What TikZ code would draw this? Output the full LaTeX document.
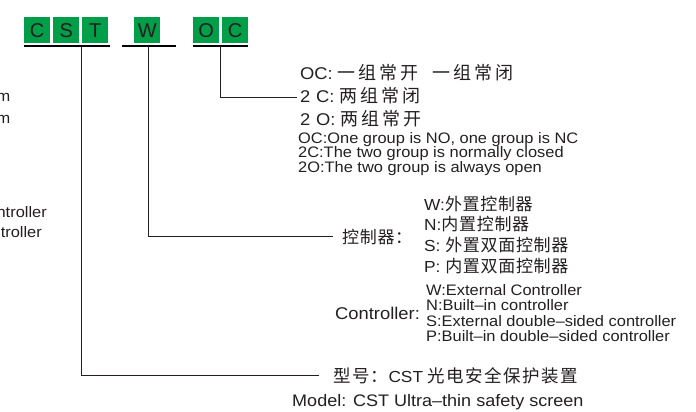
\documentclass[tikz,border=0pt]{standalone}
\usepackage{fontspec}
\setmainfont{Liberation Sans}[FakeStretch=1.08]
\newfontfamily\boxfont{Liberation Sans}
\newfontfamily\cjkfont{Noto Sans CJK SC}[LetterSpace=4]
\newfontfamily\cjkmid{Noto Sans CJK SC}[LetterSpace=8]
\newfontfamily\cjkwide{Noto Sans CJK SC}[LetterSpace=16]
\newcommand\zhtext[1]{{\cjkfont\fontsize{17}{20}\selectfont #1}}
\newcommand\zhmid[1]{{\cjkmid\fontsize{17.5}{20}\selectfont #1}}
\newcommand\zhwide[1]{{\cjkwide\fontsize{18}{20}\selectfont #1}}
\definecolor{ink}{RGB}{35,31,32}
\definecolor{boxgreen}{RGB}{0,158,73}
\begin{document}
\begin{tikzpicture}[x=1pt,y=-1pt,
  every node/.style={inner sep=0pt,text=ink},
  letterbox/.style={fill=boxgreen,minimum width=26pt,minimum height=26pt,anchor=north west,
    font=\boxfont\fontsize{20}{20}\selectfont},
  entext/.style={anchor=base west,font=\fontsize{15.2}{17}\selectfont},
  enbig/.style={anchor=base west,font=\fontsize{17}{19}\selectfont},
  enmodel/.style={anchor=base west,font=\fontsize{16.7}{19}\selectfont},
  cntext/.style={anchor=base west,font=\fontsize{16}{20}\selectfont},
  cnbig/.style={anchor=base west,font=\fontsize{17}{20}\selectfont},
  conn/.style={draw=ink,line width=1pt},
  uline/.style={draw=black,line width=1.4pt}]
\useasboundingbox (0,0) rectangle (696,412);
\clip (0,0) rectangle (696,412);
% letter boxes
\node[letterbox] (bc) at (24,17) {C};
\node[letterbox] (bs) at (53,17) {S};
\node[letterbox] (bt) at (82,17) {T};
\node[letterbox] (bw) at (134,17) {W};
\node[letterbox] (bo) at (193,17) {O};
\node[letterbox] (bc2) at (222,17) {C};
% underlines
\coordinate (u1a) at (24,46); \coordinate (u1b) at (110,46); \coordinate (u1m) at (81,46);
\coordinate (u2a) at (122,46); \coordinate (u2b) at (176,46); \coordinate (u2m) at (148,46);
\coordinate (u3a) at (193,46); \coordinate (u3b) at (248,46); \coordinate (u3m) at (220,46);
\draw[uline] (u1a) -- (u1b);
\draw[uline] (u2a) -- (u2b);
\draw[uline] (u3a) -- (u3b);
% OC group
\node[cnbig] (ocA) at (300,80) {OC: \zhwide{一组常开\hspace{14pt}一组常闭}};
\node[cnbig] (ocB) at (300,102.5) {2\,\,C: \zhwide{两组常闭}};
\node[cnbig] (ocC) at (300,125) {2\,\,O: \zhwide{两组常开}};
\node[entext] (ocD) at (298,143) {OC:One group is NO, one group is NC};
\node[entext] (ocE) at (298,157.5) {2C:The two group is normally closed};
\node[entext] (ocF) at (298,172) {2O:The two group is always open};
% controller group
\node[cntext] (ctA) at (424,210.5) {W:\zhtext{外置控制器}};
\node[cntext] (ctB) at (424,230) {N:\zhtext{内置控制器}};
\node[cntext] (ctC) at (424,251) {S: \zhtext{外置双面控制器}};
\node[cntext] (ctD) at (424,272) {P: \zhtext{内置双面控制器}};
\node[cntext] (ctzh) at (342,243) {\zhtext{控制器：}};
\node[entext] (ctE) at (426,295) {W:External Controller};
\node[entext] (ctF) at (426,310.5) {N:Built–in controller};
\node[entext] (ctG) at (426,326) {S:External double–sided controller};
\node[entext] (ctH) at (426,341.5) {P:Built–in double–sided controller};
\node[enbig] (cten) at (335,319.5) {Controller:};
% model
\node[cntext] (mdzh) at (333,382) {\zhmid{型号：}CST \zhmid{光电安全保护装置}};
\node[enmodel] (mden) at (292,406) {Model: CST Ultra–thin safety screen};
% cut-off fragments at left edge (as in the reference)
\node[entext,anchor=base east] (fa) at (10.5,101) {m};
\node[entext,anchor=base east] (fb) at (10.5,123) {m};
\node[entext,anchor=base east] (fc) at (47,217) {ntroller};
\node[entext,anchor=base east] (fd) at (42,237) {troller};
% connectors
\draw[conn] (u3m) |- ([xshift=-3pt,yshift=-1.5pt]ocB.west);
\draw[conn] (u2m) |- ([xshift=-9pt]ctzh.west);
\draw[conn] (u1m) |- ([xshift=-14pt]mdzh.west);
\end{tikzpicture}
\end{document}
